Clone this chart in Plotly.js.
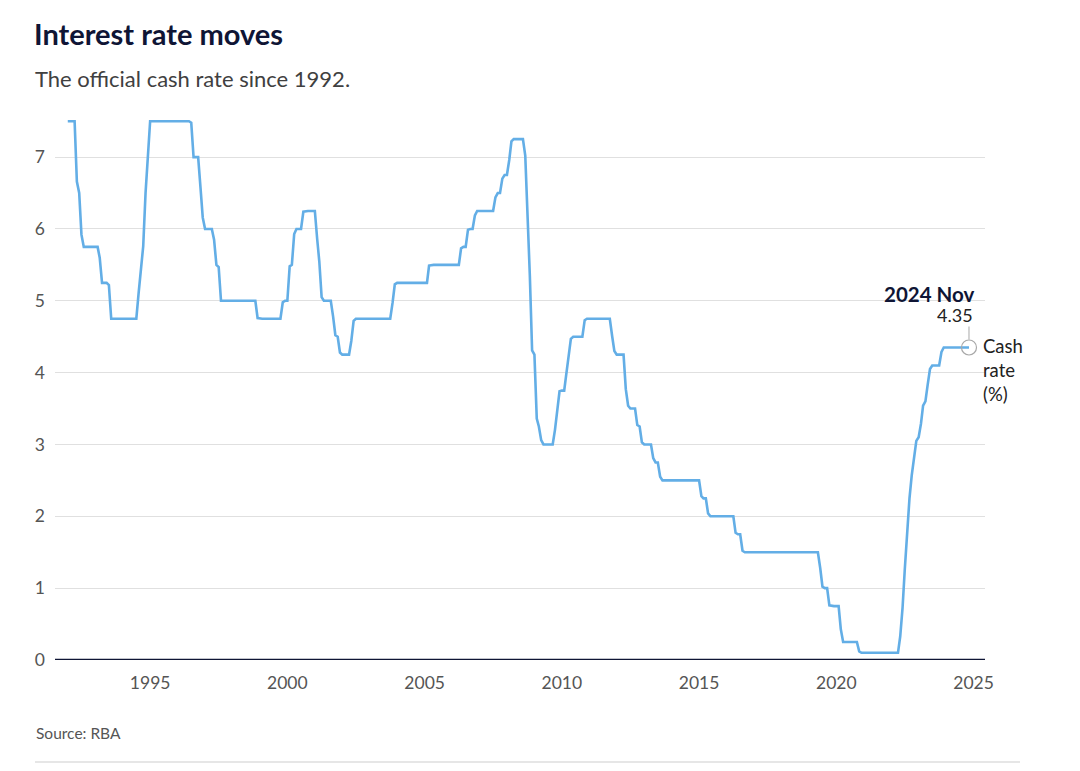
<!DOCTYPE html>
<html>
<head>
<meta charset="utf-8">
<script src="https://cdn.plot.ly/plotly-3.0.1.min.js"></script>
<style>
  html, body { margin: 0; padding: 0; background: #ffffff; }
  #chart { width: 1080px; height: 771px; }
</style>
</head>
<body>
<div id="chart"></div>
<script>
// Monthly official cash rate (%), Jan 1992 – Nov 2024
const startYear = 1992;
const cashRate = [
  /*1992*/ 7.5, 7.5, 7.5, 7.5, 6.66, 6.5, 5.92, 5.75, 5.75, 5.75, 5.75, 5.75,
  /*1993*/ 5.75, 5.75, 5.6, 5.25, 5.25, 5.25, 5.22, 4.75, 4.75, 4.75, 4.75, 4.75,
  /*1994*/ 4.75, 4.75, 4.75, 4.75, 4.75, 4.75, 4.75, 5.11, 5.5, 5.76, 6.5, 7.08,
  /*1995*/ 7.5, 7.5, 7.5, 7.5, 7.5, 7.5, 7.5, 7.5, 7.5, 7.5, 7.5, 7.5,
  /*1996*/ 7.5, 7.5, 7.5, 7.5, 7.5, 7.5, 7.48, 7.0, 7.0, 7.0, 6.58, 6.16,
  /*1997*/ 6.0, 6.0, 6.0, 6.0, 5.85, 5.5, 5.47, 5.0, 5.0, 5.0, 5.0, 5.0,
  /*1998*/ 5.0, 5.0, 5.0, 5.0, 5.0, 5.0, 5.0, 5.0, 5.0, 5.0, 5.0, 4.76,
  /*1999*/ 4.75, 4.75, 4.75, 4.75, 4.75, 4.75, 4.75, 4.75, 4.75, 4.75, 4.98, 5.0,
  /*2000*/ 5.0, 5.48, 5.5, 5.93, 6.0, 6.0, 6.0, 6.24, 6.25, 6.25, 6.25, 6.25,
  /*2001*/ 6.25, 5.86, 5.55, 5.05, 5.0, 5.0, 5.0, 5.0, 4.78, 4.52, 4.5, 4.28,
  /*2002*/ 4.25, 4.25, 4.25, 4.25, 4.44, 4.72, 4.75, 4.75, 4.75, 4.75, 4.75, 4.75,
  /*2003*/ 4.75, 4.75, 4.75, 4.75, 4.75, 4.75, 4.75, 4.75, 4.75, 4.75, 4.97, 5.23,
  /*2004*/ 5.25, 5.25, 5.25, 5.25, 5.25, 5.25, 5.25, 5.25, 5.25, 5.25, 5.25, 5.25,
  /*2005*/ 5.25, 5.25, 5.49, 5.5, 5.5, 5.5, 5.5, 5.5, 5.5, 5.5, 5.5, 5.5,
  /*2006*/ 5.5, 5.5, 5.5, 5.5, 5.73, 5.75, 5.75, 5.99, 6.0, 6.0, 6.19, 6.25,
  /*2007*/ 6.25, 6.25, 6.25, 6.25, 6.25, 6.25, 6.25, 6.44, 6.5, 6.5, 6.7, 6.75,
  /*2008*/ 6.75, 6.96, 7.22, 7.25, 7.25, 7.25, 7.25, 7.25, 7.02, 6.23, 5.35, 4.31,
  /*2009*/ 4.25, 3.36, 3.25, 3.06, 3.0, 3.0, 3.0, 3.0, 3.0, 3.2, 3.48, 3.74,
  /*2010*/ 3.75, 3.75, 3.98, 4.2, 4.47, 4.5, 4.5, 4.5, 4.5, 4.5, 4.73, 4.75,
  /*2011*/ 4.75, 4.75, 4.75, 4.75, 4.75, 4.75, 4.75, 4.75, 4.75, 4.75, 4.51, 4.3,
  /*2012*/ 4.25, 4.25, 4.25, 4.25, 3.77, 3.54, 3.5, 3.5, 3.5, 3.27, 3.25, 3.03,
  /*2013*/ 3.0, 3.0, 3.0, 3.0, 2.81, 2.75, 2.75, 2.55, 2.5, 2.5, 2.5, 2.5,
  /*2014*/ 2.5, 2.5, 2.5, 2.5, 2.5, 2.5, 2.5, 2.5, 2.5, 2.5, 2.5, 2.5,
  /*2015*/ 2.5, 2.28, 2.25, 2.25, 2.04, 2.0, 2.0, 2.0, 2.0, 2.0, 2.0, 2.0,
  /*2016*/ 2.0, 2.0, 2.0, 2.0, 1.77, 1.75, 1.75, 1.52, 1.5, 1.5, 1.5, 1.5,
  /*2017*/ 1.5, 1.5, 1.5, 1.5, 1.5, 1.5, 1.5, 1.5, 1.5, 1.5, 1.5, 1.5,
  /*2018*/ 1.5, 1.5, 1.5, 1.5, 1.5, 1.5, 1.5, 1.5, 1.5, 1.5, 1.5, 1.5,
  /*2019*/ 1.5, 1.5, 1.5, 1.5, 1.5, 1.28, 1.02, 1.0, 1.0, 0.76, 0.75, 0.75,
  /*2020*/ 0.75, 0.75, 0.43, 0.25, 0.25, 0.25, 0.25, 0.25, 0.25, 0.25, 0.12, 0.1,
  /*2021*/ 0.1, 0.1, 0.1, 0.1, 0.1, 0.1, 0.1, 0.1, 0.1, 0.1, 0.1, 0.1,
  /*2022*/ 0.1, 0.1, 0.1, 0.1, 0.33, 0.73, 1.27, 1.82, 2.25, 2.57, 2.84, 3.05,
  /*2023*/ 3.1, 3.29, 3.54, 3.6, 3.83, 4.05, 4.1, 4.1, 4.1, 4.1, 4.29, 4.35,
  /*2024*/ 4.35, 4.35, 4.35, 4.35, 4.35, 4.35, 4.35, 4.35, 4.35, 4.35, 4.35
];
const yTickValues = [0, 1, 2, 3, 4, 5, 6, 7];
const xTickYears = ['1995', '2000', '2005', '2010', '2015', '2020', '2025'];
const latestLabel = '2024 Nov';
const seriesName = 'Cash<br>rate<br>(%)';

const dates = cashRate.map((_, i) => {
  const y = startYear + Math.floor(i / 12);
  const m = (i % 12) + 1;
  return y + '-' + String(m).padStart(2, '0') + '-01';
});
const lastDate = dates[dates.length - 1];
const lastValue = cashRate[cashRate.length - 1];

const FONT = 'Lato, "Noto Sans", sans-serif';
const DARK = '#0f1535';
const GREY = '#555555';

const traces = [
  {
    type: 'scatter', mode: 'lines',
    x: dates, y: cashRate,
    line: { color: '#63aee6', width: 2.6, shape: 'linear' },
    hoverinfo: 'skip', showlegend: false
  },
  {
    type: 'scatter', mode: 'markers',
    x: [lastDate], y: [lastValue],
    marker: { symbol: 'circle-open', size: 15, color: '#a8a8a8', line: { width: 1.2, color: '#a8a8a8' } },
    hoverinfo: 'skip', showlegend: false
  }
];

const layout = {
  width: 1080, height: 771,
  paper_bgcolor: '#ffffff', plot_bgcolor: '#ffffff',
  margin: { l: 55, r: 95, t: 114, b: 111 },
  font: { family: FONT, color: GREY },
  title: {
    text: '<b>Interest rate moves</b>',
    font: { family: FONT, size: 29, color: DARK },
    xref: 'container', yref: 'container',
    x: 34 / 1080, xanchor: 'left',
    y: 1 - 35 / 771, yanchor: 'middle'
  },
  xaxis: {
    type: 'date',
    range: ['1991-07-15', '2025-06-02'],
    tickmode: 'array',
    tickvals: xTickYears.map(y => y + '-01-01'),
    ticktext: xTickYears,
    showgrid: false, zeroline: false,
    showline: false, ticks: '',
    tickfont: { family: FONT, size: 17.5, color: GREY },
    ticklabelstandoff: 10,
    fixedrange: true
  },
  yaxis: {
    range: [0, 7.6],
    tickmode: 'array',
    tickvals: yTickValues,
    ticktext: yTickValues.map(String),
    showgrid: true, gridcolor: '#e0e0e0', gridwidth: 1,
    zeroline: false, showline: false, ticks: '',
    tickfont: { family: FONT, size: 17.5, color: GREY },
    ticklabelstandoff: 9,
    fixedrange: true
  },
  shapes: [
    // zero baseline
    { type: 'line', xref: 'paper', yref: 'y', x0: 0, x1: 1, y0: 0, y1: 0,
      line: { color: DARK, width: 2.5 } },
    // leader line from value label to the marker
    { type: 'line', xref: 'x', yref: 'y', xsizemode: 'pixel', ysizemode: 'pixel',
      xanchor: lastDate, yanchor: lastValue, x0: 0, x1: 0, y0: 8, y1: 21,
      line: { color: '#a8a8a8', width: 1 } },
    // bottom divider
    { type: 'line', xref: 'paper', yref: 'paper',
      x0: (35 - 55) / 930, x1: (1020 - 55) / 930,
      y0: (660 - 762) / 546, y1: (660 - 762) / 546,
      line: { color: '#e6e6e6', width: 2 } }
  ],
  annotations: [
    { xref: 'paper', yref: 'paper', x: (33 - 55) / 930, y: (660 - 78) / 546,
      xanchor: 'left', yanchor: 'middle', showarrow: false,
      text: 'The official cash rate since 1992.',
      font: { family: FONT, size: 22, color: '#404040' } },
    { xref: 'x', yref: 'y', x: lastDate, y: lastValue,
      xanchor: 'right', yanchor: 'middle', xshift: 7, yshift: 53, showarrow: false,
      text: '<b>' + latestLabel + '</b>',
      font: { family: FONT, size: 20.5, color: DARK } },
    { xref: 'x', yref: 'y', x: lastDate, y: lastValue,
      xanchor: 'right', yanchor: 'middle', xshift: 6, yshift: 32, showarrow: false,
      text: lastValue.toFixed(2),
      font: { family: FONT, size: 18, color: '#222222' } },
    { xref: 'x', yref: 'y', x: lastDate, y: lastValue,
      xanchor: 'left', yanchor: 'top', xshift: 12, yshift: 14, showarrow: false,
      align: 'left',
      text: seriesName,
      font: { family: FONT, size: 18.5, color: '#222222' } },
    { xref: 'paper', yref: 'paper', x: (34 - 55) / 930, y: (660 - 733) / 546,
      xanchor: 'left', yanchor: 'middle', showarrow: false,
      text: 'Source: RBA',
      font: { family: FONT, size: 15.5, color: GREY } }
  ]
};

Plotly.newPlot('chart', traces, layout, { staticPlot: true, displayModeBar: false });
</script>
</body>
</html>
